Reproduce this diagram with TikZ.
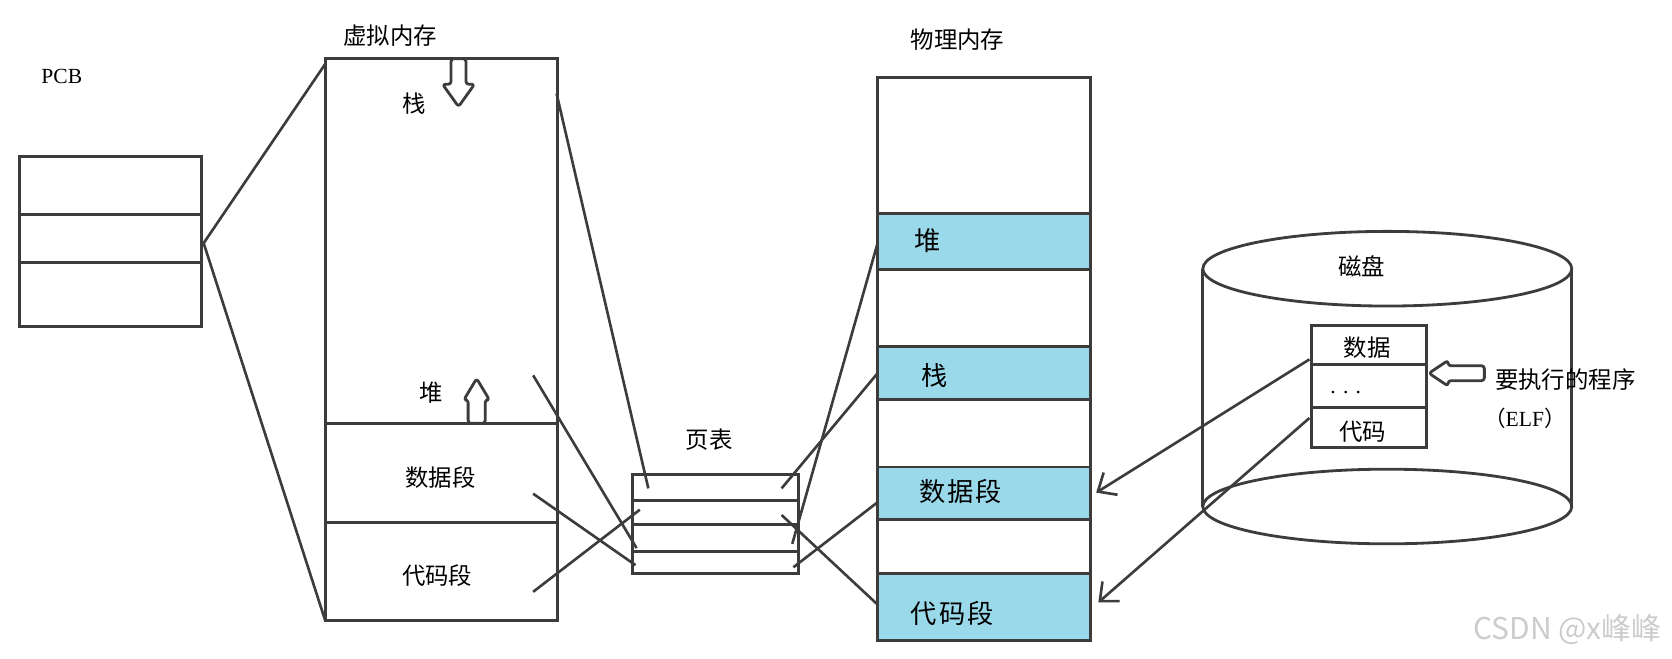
\documentclass[tikz,border=0pt]{standalone}
\usepackage{fontspec}
\usepackage{xcolor}
\setmainfont{Liberation Serif}
\newfontfamily\cjk{Noto Sans CJK SC}
\newfontfamily\cjkwide{Noto Sans CJK SC}[LetterSpace=8]
\usetikzlibrary{arrows.meta}
\definecolor{segblue}{RGB}{153,217,234}
\definecolor{ink}{RGB}{60,60,60}

\begin{document}
\begin{tikzpicture}[x=0.02cm,y=-0.02cm,
	box/.style={draw=ink, line width=1.5pt},
	link/.style={draw=ink, line width=1.4pt},
	hollow/.style={draw=ink, line width=1.5pt, fill=white, rounded corners=1.5pt, line join=round},
	txt/.style={font=\cjk\fontsize{12.5}{15}\selectfont, inner sep=0pt},
	seg/.style={font=\cjkwide\fontsize{14}{16}\selectfont, inner sep=0pt},
	lat/.style={font=\fontsize{11.5}{13}\selectfont, inner sep=0pt}]
	\useasboundingbox (0,0) rectangle (1568,618);

	\node[lat] (pcbtitle) at (58,72) {PCB};
	\draw[box] (18,147) rectangle (189,306);
	\draw[box] (18,201) -- (189,201) (18,246) -- (189,246);

	\node[txt] (vmtitle) at (366,33) {虚拟内存};
	\draw[box] (305,55) rectangle (523,582);
	\draw[box] (305,397) -- (523,397) (305,490) -- (523,490);
	\draw[hollow] (423,55)--(437,55)--(437,79)--(445,79)--(430,100)--(415,79)--(423,79)--cycle;
	\draw[hollow] (439,397)--(439,375)--(435,375)--(447,355)--(459,375)--(455,375)--(455,397)--cycle;
	\node[txt] (vmstack) at (388,97) {栈};
	\node[txt] (vmheap) at (404,368) {堆};
	\node[txt] (vmdata) at (413,448) {数据段};
	\node[txt] (vmcode) at (410,540) {代码段};

	\coordinate (pcb) at (191,228);
	\coordinate (vmtop) at (305,60);
	\coordinate (vmbot) at (305,582);
	\draw[link] (pcb) -- (vmtop) (pcb) -- (vmbot);

	\node[txt] (pttitle) at (665,412) {页表};
	\draw[box] (593,445) rectangle (749,538);
	\foreach \y in {469,492,517}
		\draw[box] (593,\y) -- (749,\y);

	\node[txt] (pmtitle) at (898,37) {物理内存};
	\foreach \t/\b in {200/253,325/375,438/487,538/601}
		\fill[segblue] (823,\t) rectangle (1023,\b);
	\foreach \y in {200,253,325,375,438,487,538}
		\draw[box] (823,\y) -- (1023,\y);
	\draw[box] (823,73) rectangle (1023,601);
	\node[seg] (pmheap) at (870,226) {堆};
	\node[seg] (pmstack) at (876,352) {栈};
	\node[seg] (pmdata) at (901,461) {数据段};
	\node[seg] (pmcode) at (893,575) {代码段};

	\coordinate (vmS) at (522,88);
	\coordinate (vmH) at (500,352);
	\coordinate (vmD) at (500,463);
	\coordinate (vmC) at (500,555);
	\coordinate (ptS) at (608,458);
	\coordinate (ptC) at (600,478);
	\coordinate (ptH) at (597,514);
	\coordinate (ptD) at (596,530);
	\draw[link] (vmS) -- (ptS);
	\draw[link] (vmH) -- (ptH);
	\draw[link] (vmD) -- (ptD);
	\draw[link] (vmC) -- (ptC);

	\coordinate (ptS2) at (733,458);
	\coordinate (ptC2) at (733,483);
	\coordinate (ptH2) at (743,510);
	\coordinate (ptD2) at (744,532);
	\coordinate (pmS) at (823,350);
	\coordinate (pmC) at (823,567);
	\coordinate (pmH) at (823,228);
	\coordinate (pmD) at (823,471);
	\draw[link] (ptS2) -- (pmS);
	\draw[link] (ptC2) -- (pmC);
	\draw[link] (ptH2) -- (pmH);
	\draw[link] (ptD2) -- (pmD);

	\draw[box] (1128,252) -- (1128,475) (1474,252) -- (1474,475);
	\draw[box, fill=white] (1301,252) ellipse [x radius=173, y radius=35];
	\draw[box] (1301,475) ellipse [x radius=173, y radius=35];
	\node[txt] (disktitle) at (1277,250) {磁盘};
	\draw[box, fill=white] (1230,305) rectangle (1338,420);
	\draw[box] (1230,342) -- (1338,342) (1230,382) -- (1338,382);
	\node[txt] (diskdata) at (1282,326) {数据};
	\node[lat] (diskdots) at (1262,368) {. . .};
	\node[txt] (diskcode) at (1278,405) {代码};
	\draw[hollow] (1340,350)--(1358,338)--(1358,343)--(1392,343)--(1392,357)--(1358,357)--(1358,362)--cycle;
	\node[txt] (prog) at (1468,356) {要执行的程序};
	\node[lat] (elf) at (1430,392) {{\cjk （}ELF{\cjk ）}};

	\coordinate (fileD) at (1228,337);
	\coordinate (fileC) at (1228,392);
	\coordinate (pmDin) at (1028,462);
	\coordinate (pmCin) at (1030,565);
	\draw[link, -{Straight Barb[length=8pt,width=14pt]}] (fileD) -- (pmDin);
	\draw[link, -{Straight Barb[length=8pt,width=14pt]}] (fileC) -- (pmCin);

	\node[font=\cjk\fontsize{16}{18}\selectfont, text=black!20, inner sep=0pt] (mark) at (1470,590) {CSDN @x峰峰};
\end{tikzpicture}
\end{document}
